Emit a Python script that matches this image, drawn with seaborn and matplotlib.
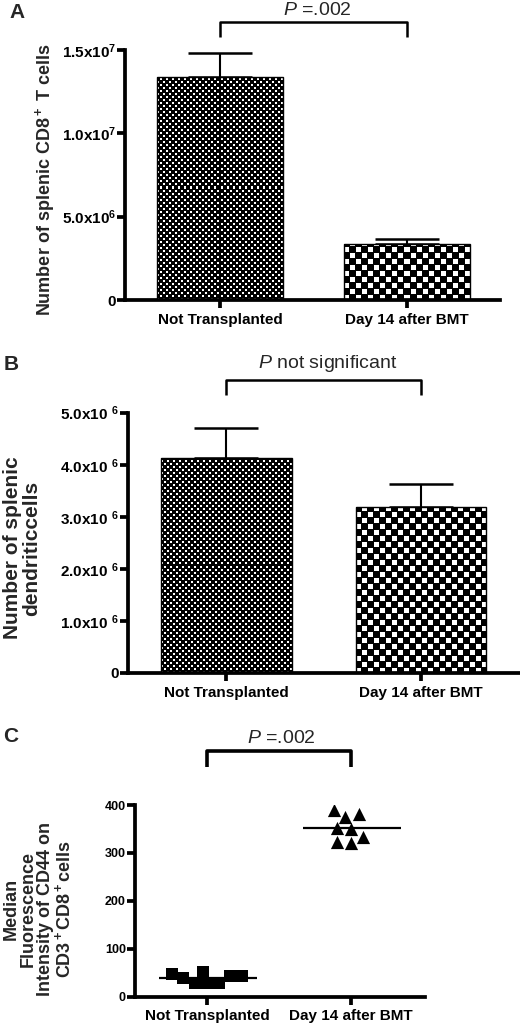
import numpy as np
import pandas as pd
import matplotlib
matplotlib.use("Agg")
import matplotlib.pyplot as plt
import seaborn as sns

groups = ["Not Transplanted", "Day 14 after BMT"]

# A: splenic CD8+ T cells, mean and SEM
cd8_mean = [1.34e7, 3.36e6]
cd8_sem = [1.4e6, 3.0e5]
cd8_ticks = [0, 5e6, 1e7, 1.5e7]
cd8_ticklabels = ["0", "5.0x10$^6$", "1.0x10$^7$", "1.5x10$^7$"]

# B: splenic dendritic cells, mean and SEM
dc_mean = [4.13e6, 3.18e6]
dc_sem = [5.8e5, 4.5e5]
dc_ticks = [0, 1e6, 2e6, 3e6, 4e6, 5e6]
dc_ticklabels = ["0", "1.0x10 $^6$", "2.0x10 $^6$", "3.0x10 $^6$", "4.0x10 $^6$", "5.0x10 $^6$"]

# C: CD44 MFI on CD3+CD8+ cells, one value per mouse
mfi_not = [47, 43, 29, 28, 51, 29, 38, 44]
mfi_bmt = [381, 390, 374, 351, 349, 334, 320, 323]
mfi_ticks = [0, 100, 200, 300, 400]

sns.set_style("ticks")
plt.rcParams["font.family"] = ["Liberation Sans", "DejaVu Sans"]
plt.rcParams["font.weight"] = "bold"
plt.rcParams["axes.labelweight"] = "bold"
plt.rcParams["mathtext.fontset"] = "custom"
plt.rcParams["mathtext.rm"] = "Liberation Sans:normal"
plt.rcParams["mathtext.bf"] = "Liberation Sans:bold"
plt.rcParams["mathtext.it"] = "Liberation Sans:italic:normal"
plt.rcParams["mathtext.default"] = "bf"

W, H = 520, 1029
fig = plt.figure(figsize=(W / 100, H / 100), dpi=100)


def rect(left, top, right, bottom):
    return [left / W, 1 - bottom / H, (right - left) / W, (bottom - top) / H]


def style(ax, lw=2.7, ylab_size=11):
    sns.despine(ax=ax)
    for s in ["left", "bottom"]:
        ax.spines[s].set_linewidth(lw)
        ax.spines[s].set_color("black")
    ax.tick_params(width=lw, length=6, color="black", labelcolor="black")
    ax.tick_params(axis="y", pad=0.5, labelsize=ylab_size)
    ax.tick_params(axis="x", pad=3, labelsize=11)
    ax.set_xlabel("")


def checker(ax, patch, cell, dot):
    # fill a bar with a checkerboard clipped to its outline
    bb = patch.get_window_extent()
    nx, ny = int(round(bb.width)), int(round(bb.height))
    j, i = np.meshgrid(np.arange(nx), np.arange(ny))
    white = ((i // cell + j // cell) % 2 == 0) & (i % cell < dot) & (j % cell < dot)
    x0, y0 = patch.get_x(), patch.get_y()
    im = ax.imshow(white.astype(float), cmap="gray", vmin=0, vmax=1, origin="lower",
                   extent=(x0, x0 + patch.get_width(), y0, y0 + patch.get_height()),
                   aspect="auto", interpolation="nearest", zorder=2)
    im.set_clip_path(patch)
    patch.set_facecolor("none")
    patch.set_zorder(3)


def bars(ax, means, sems, xlim, ylim):
    df = pd.DataFrame({"group": groups, "value": means})
    sns.barplot(data=df, x="group", y="value", order=groups, width=0.67, color="white",
                edgecolor="black", linewidth=1, errorbar=None, ax=ax)
    ax.errorbar(np.arange(len(groups)), means, yerr=[np.zeros(len(groups)), sems], fmt="none",
                ecolor="black", elinewidth=1.5, capsize=23, capthick=1.8, zorder=1)
    ax.set_xlim(xlim)
    ax.set_ylim(ylim)
    for patch, (cell, dot) in zip(list(ax.patches), [(3, 2), (6, 5)]):
        checker(ax, patch, cell, dot)
    ax.set_xlim(xlim)
    ax.set_ylim(ylim)


def bracket(ax, y_bar, y_leg, y_txt, text, lw):
    tr = ax.get_xaxis_transform()
    ax.plot([0, 0, 1, 1], [y_leg, y_bar, y_bar, y_leg], color="black", lw=lw,
            transform=tr, clip_on=False, solid_capstyle="butt")
    ax.text(0.52, y_txt, text, transform=tr, ha="center", va="baseline",
            fontsize=14, fontweight="normal")


# ---- A
axA = fig.add_axes(rect(125, 50, 500, 300))
bars(axA, cd8_mean, cd8_sem, (-0.508, 1.497), (0, 1.5e7))
axA.set_yticks(cd8_ticks)
axA.set_yticklabels(cd8_ticklabels)
style(axA)
axA.set_ylabel("Number of splenic CD8$^+$ T cells", fontsize=13, va="center")
axA.yaxis.set_label_coords(-0.213, 0.48)
bracket(axA, 1.112, 1.052, 1.14, "$\\mathit{P}$ =.002", 1.8)

# ---- B
axB = fig.add_axes(rect(128, 412.7, 520, 673))
bars(axB, dc_mean, dc_sem, (-0.505, 1.507), (0, 5e6))
axB.set_yticks(dc_ticks)
axB.set_yticklabels(dc_ticklabels)
style(axB)
axB.set_ylabel("Number of splenic\ndendriticcells", fontsize=15, va="center", linespacing=1.0)
axB.yaxis.set_label_coords(-0.27, 0.48)
bracket(axB, 1.1256, 1.068, 1.172, "$\\mathit{P}$ not significant", 1.8)

# ---- C
axC = fig.add_axes(rect(135, 805, 425, 996.7))
df_c = pd.DataFrame({
    "group": [groups[0]] * len(mfi_not) + [groups[1]] * len(mfi_bmt),
    "mfi": mfi_not + mfi_bmt,
})
for g, m, s in zip(groups, ["s", "^"], [8.5, 9.5]):
    sns.swarmplot(data=df_c[df_c["group"] == g], x="group", y="mfi", order=groups,
                  marker=m, color="black", size=s, ax=axC, zorder=3)
means = df_c.groupby("group", sort=False)["mfi"].mean()
pos = np.arange(len(groups))
axC.hlines(means.values, pos - 0.33, pos + 0.35, color="black", lw=1.6, zorder=4)
axC.set_xlim(-0.5, 1.514)
axC.set_ylim(0, 400)
axC.set_yticks(mfi_ticks)
style(axC, ylab_size=9)
axC.set_ylabel("Median\nFluorescence\nIntensity of CD44 on\nCD3$^+$CD8$^+$cells",
               fontsize=13, va="center", linespacing=1.0)
axC.yaxis.set_label_coords(-0.334, 0.457)
bracket(axC, 1.283, 1.2, 1.323, "$\\mathit{P}$ =.002", 2.6)

# panel letters
for letter, (x, y) in zip(["A", "B", "C"], [(17, 13), (11, 365), (11, 736)]):
    fig.text(x / W, 1 - y / H, letter, fontsize=15, fontweight="bold", ha="center", va="center")

fig.savefig("out.png", dpi=100)
